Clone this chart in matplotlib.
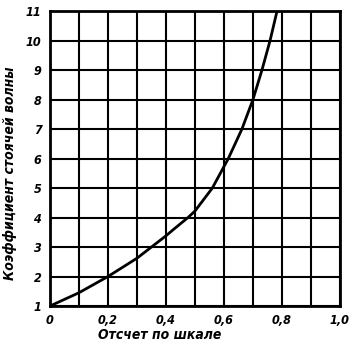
import matplotlib.pyplot as plt

# отсчет по шкале -> коэффициент стоячей волны
scale_reading = [0.0, 0.1, 0.2, 0.3, 0.35, 0.4, 0.424, 0.476, 0.5, 0.56, 0.615, 0.662, 0.70, 0.731, 0.759, 0.783]
swr = [1.0, 1.45, 2.0, 2.62, 3.0, 3.38, 3.58, 4.0, 4.22, 5.0, 6.0, 7.0, 8.0, 9.0, 10.0, 11.0]

x_ticks = [0, 0.2, 0.4, 0.6, 0.8, 1.0]
x_ticklabels = ['0', '0,2', '0,4', '0,6', '0,8', '1,0']
y_ticks = list(range(1, 12))

fnt = dict(family='DejaVu Sans', style='italic', weight='bold', stretch='condensed')

fig = plt.figure(figsize=(3.64, 3.47), dpi=100)
ax = fig.add_axes([0.137, 0.118, 0.797, 0.850])

ax.plot(scale_reading, swr, color='black', lw=2.0, solid_capstyle='round', solid_joinstyle='round')

ax.set_xlim(0, 1.0)
ax.set_ylim(1, 11)
ax.set_xticks([i / 10 for i in range(11)])
ax.set_yticks(y_ticks)
ax.grid(True, color='black', lw=1.5)
for s in ax.spines.values():
    s.set_linewidth(2)
ax.tick_params(length=0, pad=6)

ax.set_xticklabels([x_ticklabels[i // 2] if i % 2 == 0 else '' for i in range(11)], fontsize=9, **fnt)
ax.set_yticklabels([str(v) for v in y_ticks], fontsize=9, **fnt)

ax.set_xlabel('Отсчет по шкале', fontsize=10, labelpad=1, **fnt)
ax.xaxis.set_label_coords(0.38, -0.075)
ax.set_ylabel('Коэффициент стоячей волны', fontsize=10, labelpad=8, **fnt)
ax.yaxis.set_label_coords(-0.115, 0.45)

fig.savefig('out.png', dpi=100)
